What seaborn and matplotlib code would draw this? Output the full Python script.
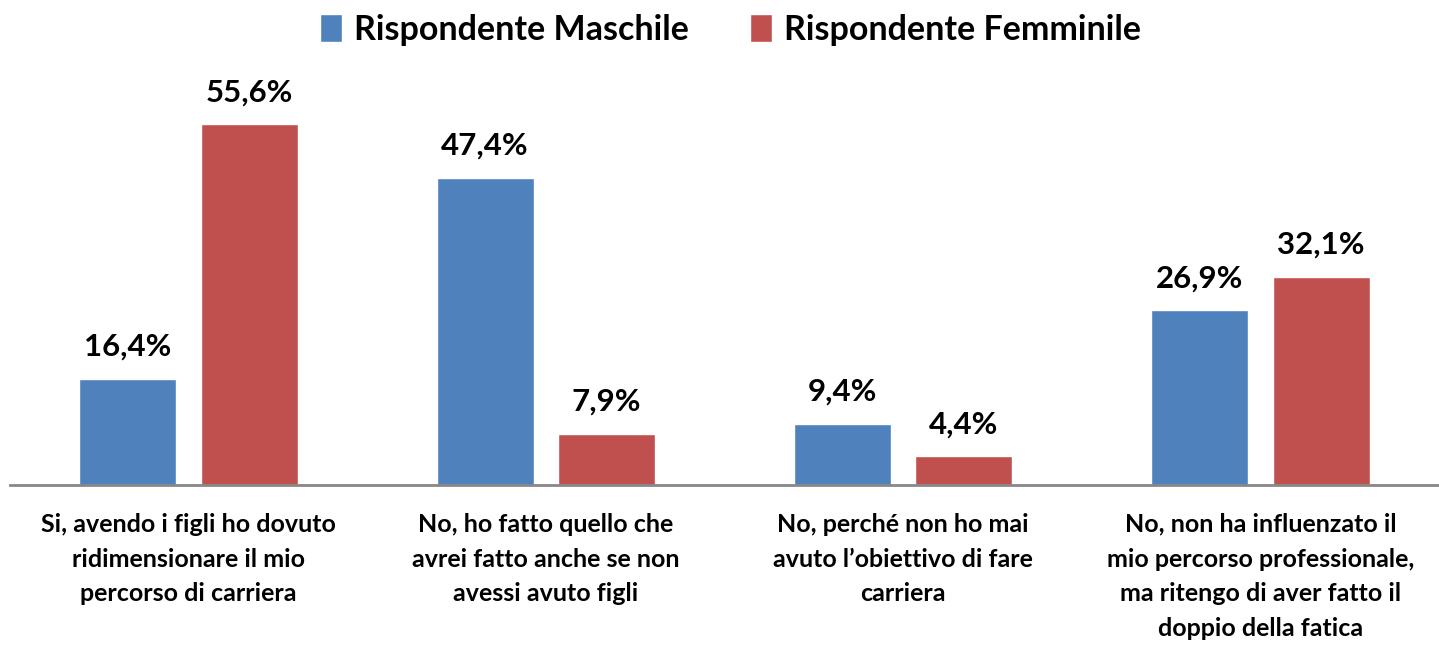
import pandas as pd
import matplotlib.pyplot as plt
import seaborn as sns

categories = [
    "Si, avendo i figli ho dovuto\nridimensionare il mio\npercorso di carriera",
    "No, ho fatto quello che\navrei fatto anche se non\navessi avuto figli",
    "No, perché non ho mai\navuto l\u2019obiettivo di fare\ncarriera",
    "No, non ha influenzato il\nmio percorso professionale,\nma ritengo di aver fatto il\ndoppio della fatica",
]
series = ["Rispondente Maschile", "Rispondente Femminile"]
maschile = [16.4, 47.4, 9.4, 26.9]
femminile = [55.6, 7.9, 4.4, 32.1]

df = pd.DataFrame({
    "categoria": categories * 2,
    "serie": [series[0]] * 4 + [series[1]] * 4,
    "valore": maschile + femminile,
})

sns.set_style("white")
plt.rcParams["font.family"] = ["Lato", "DejaVu Sans"]
plt.rcParams["font.weight"] = "bold"
plt.rcParams["text.color"] = "black"
plt.rcParams["xtick.color"] = "black"

fig = plt.figure(figsize=(14.39, 6.46), dpi=100)
ax = fig.add_axes([10 / 1439, 0.2492, 1 - 10 / 1439, 0.703])

sns.barplot(data=df, x="categoria", y="valore", hue="serie", order=categories,
            hue_order=series, palette=["#4F81BD", "#C0504D"], width=0.68, gap=0.2,
            saturation=1, ax=ax)

for cont in ax.containers:
    ax.bar_label(cont, labels=[f"{v:.1f}%".replace(".", ",") for v in cont.datavalues],
                 padding=13, fontsize=22.5, fontweight="bold", color="black")

ax.set_ylim(0, 70)
ax.set_xlim(-0.5, 3.5)
ax.set_xlabel("")
ax.set_ylabel("")
ax.set_yticks([])
for side in ["top", "right", "left"]:
    ax.spines[side].set_visible(False)
ax.spines["bottom"].set_color("#878787")
ax.spines["bottom"].set_linewidth(2)
ax.tick_params(axis="x", length=0, pad=20, labelsize=18, labelcolor="black")
for lbl in ax.get_xticklabels():
    lbl.set_fontweight("bold")
    lbl.set_linespacing(1.62)

ax.legend(loc="upper center", bbox_to_anchor=(0.5 + 6 / 1439, 1.105), ncol=2, frameon=False,
          handlelength=0.65, handleheight=0.85, handletextpad=0.35,
          columnspacing=1.8, prop={"weight": "bold", "size": 24.5})

fig.savefig("out.png", dpi=100)
